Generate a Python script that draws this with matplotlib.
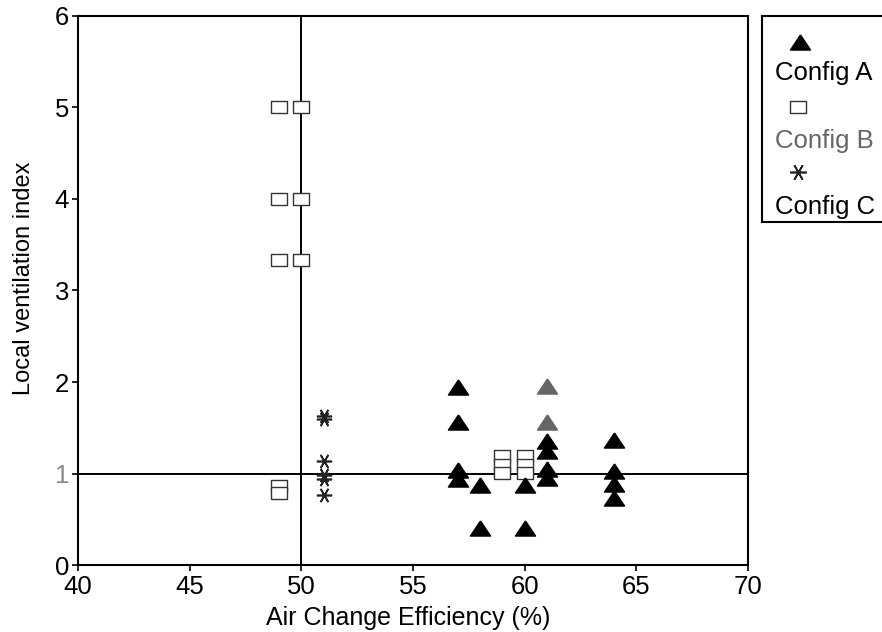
import matplotlib.pyplot as plt

plt.rcParams['font.family'] = ['Liberation Sans', 'DejaVu Sans']

# Config A (filled triangles)
a_x = [57, 57, 57, 57, 58, 58, 60, 60, 61, 61, 61, 61, 64, 64, 64, 64]
a_y = [1.95, 1.56, 1.04, 0.94, 0.87, 0.40, 0.87, 0.40, 1.36, 1.25, 1.05, 0.95, 1.37, 1.03, 0.88, 0.73]
# Config A points printed in grey
a2_x = [61, 61]
a2_y = [1.96, 1.56]

# Config B (open rectangles)
b_x = [49, 50, 49, 50, 49, 50, 49, 49, 59, 59, 59, 60, 60, 60]
b_y = [5.0, 5.0, 4.0, 4.0, 3.33, 3.33, 0.86, 0.79, 1.19, 1.09, 1.01, 1.19, 1.09, 1.01]

# Config C (asterisks)
c_x = [51, 51, 51, 51, 51, 51]
c_y = [1.63, 1.60, 1.14, 0.98, 0.94, 0.77]

xticks = [40, 45, 50, 55, 60, 65, 70]
yticks = [0, 1, 2, 3, 4, 5, 6]

# wide, flat marker shapes like the printed ones
tri = [(0, 0.75), (-1, -0.75), (1, -0.75), (0, 0.75)]
rect = [(-1.35, -1), (1.35, -1), (1.35, 1), (-1.35, 1), (-1.35, -1)]
star = (6, 2, 90)

fig = plt.figure(figsize=(8.82, 6.32), dpi=100)
ax = fig.add_axes([0.0884, 0.106, 0.7596, 0.8687])

ax.axvline(50, color='black', lw=1.4, zorder=1)
ax.axhline(1, color='black', lw=1.4, zorder=1)

ax.plot(a_x, a_y, ls='none', marker=tri, ms=14.5, color='black', zorder=3)
ax.plot(a2_x, a2_y, ls='none', marker=tri, ms=14.5, color='#666666', zorder=3)
ax.plot(b_x, b_y, ls='none', marker=rect, ms=11, mfc='white', mec='#333333', mew=1.0, zorder=2)
ax.plot(c_x, c_y, ls='none', marker=star, ms=11, mec='#222222', mew=1.2, zorder=3)

ax.set_xlim(40, 70)
ax.set_ylim(0, 6)
ax.set_xticks(xticks)
ax.set_yticks(yticks)
ax.tick_params(labelsize=18.5, direction='out', length=4.5, width=1.2)
ax.tick_params(axis='x', pad=3)
ax.tick_params(axis='y', pad=2)
ax.get_yticklabels()[1].set_color('#888888')
for s in ax.spines.values():
    s.set_linewidth(1.5)
ax.set_xlabel('Air Change Efficiency (%)', fontsize=18)
ax.set_ylabel('Local ventilation index', fontsize=17)
ax.xaxis.set_label_coords(0.493, -0.075)
ax.xaxis.label.set_va('top')
ax.yaxis.set_label_coords(-0.064, 0.523)

# legend box, markers stacked above their labels
lg = fig.add_axes([0.864, 0.648, 0.2, 0.327])
lg.set_xlim(0, 1)
lg.set_ylim(0, 1)
lg.set_xticks([])
lg.set_yticks([])
for s in lg.spines.values():
    s.set_linewidth(1.5)
lg.plot([0.215], [0.874], ls='none', marker=tri, ms=14.5, color='black')
lg.text(0.074, 0.69, 'Config A', fontsize=18.5, va='baseline')
lg.plot([0.205], [0.56], ls='none', marker=rect, ms=11, mfc='white', mec='#333333', mew=1.0)
lg.text(0.074, 0.361, 'Config B', fontsize=18.5, va='baseline', color='#666666')
lg.plot([0.205], [0.245], ls='none', marker=star, ms=12, mec='#222222', mew=1.2)
lg.text(0.074, 0.04, 'Config C', fontsize=18.5, va='baseline')

fig.savefig('out.png', dpi=100)
